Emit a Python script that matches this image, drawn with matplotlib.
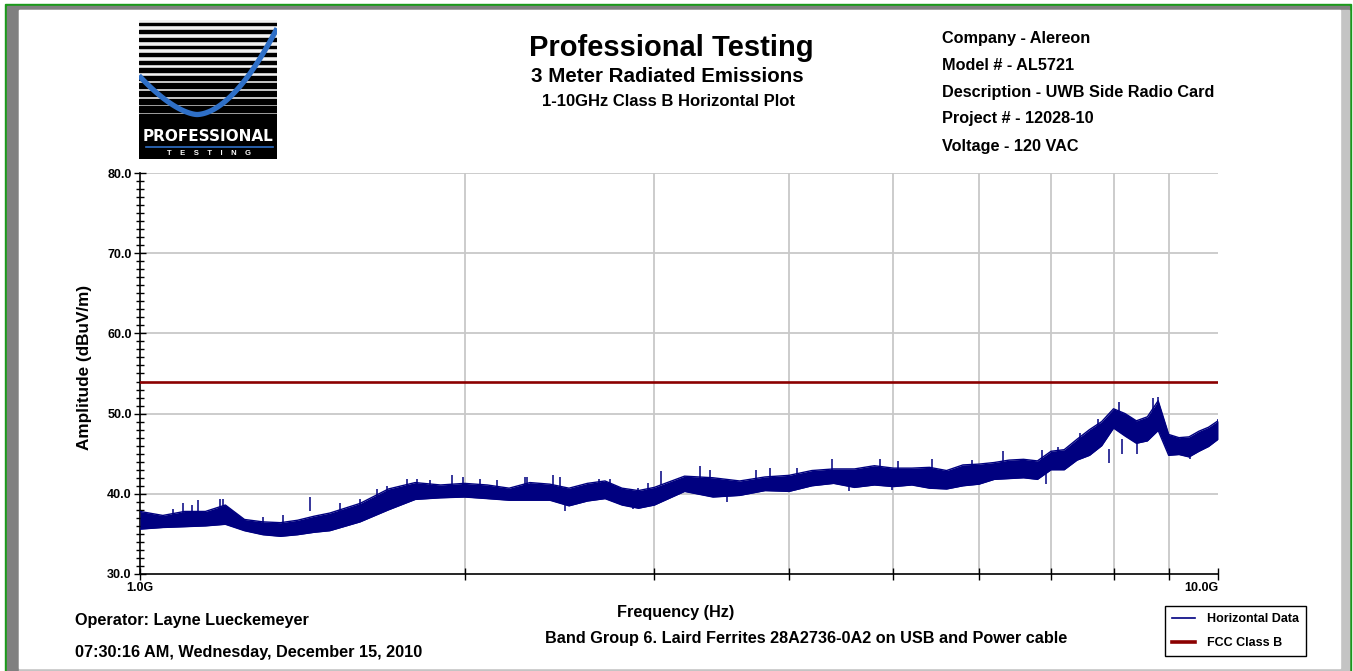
import numpy as np
import matplotlib
matplotlib.use("Agg")
import matplotlib.pyplot as plt
from matplotlib.patches import Rectangle
from matplotlib.lines import Line2D

plt.rcParams['font.family'] = ['Liberation Sans', 'DejaVu Sans']
plt.rcParams['font.weight'] = 'bold'

W, H = 1353, 671

# frequency (GHz) and the upper / lower edge of the measured band (dBuV/m)
freq_ghz = [1.0, 1.05, 1.1, 1.15, 1.2, 1.25, 1.3, 1.35, 1.4, 1.45, 1.5, 1.6, 1.7, 1.8, 1.9,
            2.0, 2.1, 2.2, 2.3, 2.4, 2.5, 2.6, 2.7, 2.8, 2.9, 3.0, 3.2, 3.4, 3.6, 3.8,
            4.0, 4.2, 4.4, 4.6, 4.8, 5.0, 5.2, 5.4, 5.6, 5.8, 6.0, 6.2, 6.4, 6.6, 6.8,
            7.0, 7.2, 7.4, 7.6, 7.8, 8.0, 8.2, 8.4, 8.6, 8.8, 9.0, 9.2, 9.4, 9.6, 9.8, 10.0]
band_top = [37.8, 37.3, 37.8, 37.8, 38.6, 36.8, 36.5, 36.4, 36.7, 37.2, 37.6, 38.8, 40.6, 41.4, 41.1,
            41.3, 41.1, 40.7, 41.4, 41.2, 40.7, 41.3, 41.6, 40.7, 40.4, 40.8, 42.2, 42.0, 41.6, 42.1,
            42.3, 42.9, 43.1, 43.1, 43.5, 43.2, 43.2, 43.3, 42.9, 43.6, 43.7, 43.9, 44.2, 44.3, 44.1,
            45.3, 45.5, 46.8, 48.0, 49.0, 50.6, 50.0, 49.1, 49.6, 51.6, 47.4, 47.0, 47.1, 47.8, 48.3, 49.1]
band_bot = [35.6, 35.8, 35.9, 36.0, 36.2, 35.4, 34.9, 34.7, 34.9, 35.2, 35.4, 36.5, 38.0, 39.3, 39.5,
            39.6, 39.4, 39.2, 39.2, 39.2, 38.5, 39.1, 39.4, 38.6, 38.2, 38.6, 40.3, 39.6, 39.8, 40.4,
            40.3, 41.0, 41.3, 40.8, 41.1, 40.9, 41.1, 40.7, 40.6, 41.0, 41.2, 41.8, 41.9, 42.0, 41.8,
            43.0, 43.0, 44.2, 44.8, 46.0, 48.2, 47.2, 46.3, 46.6, 47.9, 44.8, 44.9, 44.6, 45.3, 45.9, 46.8]

# spikes above the band: frequency (GHz) and peak level
up_f = [1.073, 1.096, 1.117, 1.132, 1.186, 1.194, 1.30, 1.357, 1.438, 1.533, 1.600, 1.659, 1.695,
        1.768, 1.807, 1.857, 1.948, 1.994, 2.068, 2.143, 2.276, 2.285, 2.418, 2.455, 2.668, 2.727,
        2.897, 2.962, 3.04, 3.31, 3.38, 3.73, 3.84, 4.07, 4.38, 4.86, 5.05, 5.43, 5.91, 6.32,
        6.86, 7.10, 7.45, 7.74, 8.09, 8.34, 8.71, 8.80, 10.0]
up_hi = [38.1, 38.8, 38.6, 39.2, 39.4, 39.3, 37.1, 37.3, 39.6, 38.8, 39.4, 40.6, 41.0,
         41.8, 41.9, 41.7, 42.4, 42.1, 41.9, 41.7, 42.1, 42.1, 42.3, 42.1, 41.9, 41.9,
         40.7, 41.4, 42.9, 43.5, 43.0, 43.0, 43.2, 43.2, 44.3, 44.4, 44.1, 44.3, 44.2, 45.3,
         45.4, 45.8, 47.6, 49.3, 51.4, 49.3, 52.0, 52.1, 49.3]
# spikes below the band
down_f = [2.48, 2.866, 3.50, 4.55, 4.98, 6.93, 7.92, 8.14, 8.42, 9.41]
down_lo = [37.9, 38.1, 39.0, 40.4, 40.5, 41.2, 43.8, 45.0, 45.0, 44.3]

fcc_limit = 54.0

y_ticks = [30, 40, 50, 60, 70, 80]
x_grid = [2, 3, 4, 5, 6, 7, 8, 9]

header_lines = ["Company - Alereon", "Model # - AL5721", "Description - UWB Side Radio Card",
                "Project # - 12028-10", "Voltage - 120 VAC"]

NAVY = '#000080'
DARKRED = '#8b0000'
GRID = '#c8c8c8'


def fx(px):
    return px / W


def fy(py):
    return 1 - py / H


fig = plt.figure(figsize=(W / 100, H / 100), dpi=100)
fig.patch.set_facecolor('white')

# window frame
fig.patches.append(Rectangle((fx(5), fy(672)), fx(1351) - fx(5), fy(4) - fy(672),
                             transform=fig.transFigure, color='#1a9a1a', zorder=-10))
fig.patches.append(Rectangle((fx(7), fy(672)), fx(1349) - fx(7), fy(6) - fy(672),
                             transform=fig.transFigure, color='#808080', zorder=-9))
fig.patches.append(Rectangle((fx(19), fy(672)), fx(1349) - fx(19), fy(10) - fy(672),
                             transform=fig.transFigure, color='#c4c4c4', zorder=-8))
fig.patches.append(Rectangle((fx(19), fy(668)), fx(1340) - fx(19), fy(10) - fy(668),
                             transform=fig.transFigure, color='white', zorder=-7))

# main plot
ax = fig.add_axes([fx(140), fy(574), fx(1218) - fx(140), fy(173) - fy(574)])
ax.set_xscale('log')
ax.set_xlim(1.0, 10.0)
ax.set_ylim(30, 80)

ax.fill_between(freq_ghz, band_bot, band_top, color=NAVY, lw=0, zorder=3)
ax.plot(freq_ghz, band_top, color=NAVY, lw=1.0, zorder=3)
ax.plot(freq_ghz, band_bot, color=NAVY, lw=1.0, zorder=3)
ax.vlines(up_f, np.array(up_hi) - 1.8, up_hi, color=NAVY, lw=1.1, zorder=3)
ax.vlines(down_f, down_lo, np.array(down_lo) + 1.8, color=NAVY, lw=1.1, zorder=3)
ax.axhline(fcc_limit, color=DARKRED, lw=1.9, zorder=4)

for g in x_grid:
    ax.axvline(g, color=GRID, lw=1.3, zorder=1)
for t in y_ticks[1:]:
    ax.axhline(t, color=GRID, lw=1.3, zorder=1)

for s in ['top', 'right']:
    ax.spines[s].set_visible(False)
for s in ['left', 'bottom']:
    ax.spines[s].set_linewidth(1.2)

ax.set_yticks(y_ticks)
ax.set_yticklabels([f"{t:.1f}" for t in y_ticks])
ax.set_yticks(np.arange(30, 81, 1), minor=True)
ax.set_xticks([1] + x_grid + [10])
ax.set_xticklabels(["1.0G"] + [""] * len(x_grid) + ["10.0G"])
ax.xaxis.set_minor_locator(matplotlib.ticker.NullLocator())
ax.tick_params(axis='both', which='major', direction='inout', length=8, width=1, labelsize=9, pad=2)
ax.tick_params(axis='y', which='minor', direction='inout', length=6, width=1)
for lab in ax.get_xticklabels() + ax.get_yticklabels():
    lab.set_fontweight('bold')
ax.get_xticklabels()[-1].set_horizontalalignment('right')

fig.text(fx(85), fy(367), "Amplitude (dBuV/m)", rotation=90, ha='center', va='center',
         fontsize=12.3, fontweight='bold')

leg = ax.legend(handles=[Line2D([], [], color=NAVY, lw=1.2),
                         Line2D([], [], color=DARKRED, lw=2.6)],
                labels=["Horizontal Data", "FCC Class B"],
                loc='lower right', bbox_to_anchor=(fx(1306), fy(656)), bbox_transform=fig.transFigure,
                fancybox=False, edgecolor='black', framealpha=1, borderaxespad=0,
                prop={'size': 9, 'weight': 'bold'}, handlelength=1.8, handletextpad=1.0,
                labelspacing=0.95, borderpad=0.55)
leg.get_frame().set_linewidth(1.0)

# headers
bold = dict(fontweight='bold', va='center')
fig.text(fx(671), fy(48), "Professional Testing", ha='center', fontsize=21, **bold)
fig.text(fx(667), fy(77), "3 Meter Radiated Emissions", ha='center', fontsize=14.8, **bold)
fig.text(fx(668), fy(101), "1-10GHz Class B Horizontal Plot", ha='center', fontsize=12, **bold)
for i, line in enumerate(header_lines):
    fig.text(fx(942), fy(38 + 27 * i), line, ha='left', fontsize=11.7, **bold)

fig.text(fx(75), fy(620), "Operator: Layne Lueckemeyer", ha='left', fontsize=11.7, **bold)
fig.text(fx(75), fy(652), "07:30:16 AM, Wednesday, December 15, 2010", ha='left', fontsize=11.7, **bold)
fig.text(fx(676), fy(612), "Frequency (Hz)", ha='center', fontsize=11.7, **bold)
fig.text(fx(806), fy(638), "Band Group 6. Laird Ferrites 28A2736-0A2 on USB and Power cable",
         ha='center', fontsize=11.7, **bold)

# logo
lax = fig.add_axes([fx(139), fy(159), fx(277) - fx(139), fy(20) - fy(159)])
lax.set_xlim(0, 1)
lax.set_ylim(0, 1)
lax.axis('off')
lax.add_patch(Rectangle((0, 0.27), 1, 0.73, color='#f2f2f2'))
for i in range(13):
    top = 0.98 - i * 0.0545
    h = 0.014 + i * 0.0025
    lax.add_patch(Rectangle((0, top - h), 1, h, color='black'))
cx = np.linspace(0.0, 1.0, 120)
cy = np.where(cx < 0.42,
              0.32 + 0.28 * ((0.42 - cx) / 0.42) ** 1.6,
              0.32 + 0.62 * ((cx - 0.42) / 0.58) ** 1.8)
lax.plot(cx, cy, color='#2e6fc7', lw=3.8, solid_capstyle='butt')
lax.add_patch(Rectangle((0, 0), 1, 0.28, color='black'))
lax.text(0.5, 0.165, "PROFESSIONAL", color='white', ha='center', va='center', fontsize=11,
         fontweight='bold', family='DejaVu Sans')
lax.plot([0.05, 0.97], [0.085, 0.085], color='#2e6fc7', lw=1.2)
lax.text(0.51, 0.04, "T    E    S    T    I    N    G", color='white', ha='center', va='center',
         fontsize=5.5, fontweight='bold')

fig.savefig("out.png", dpi=100)
